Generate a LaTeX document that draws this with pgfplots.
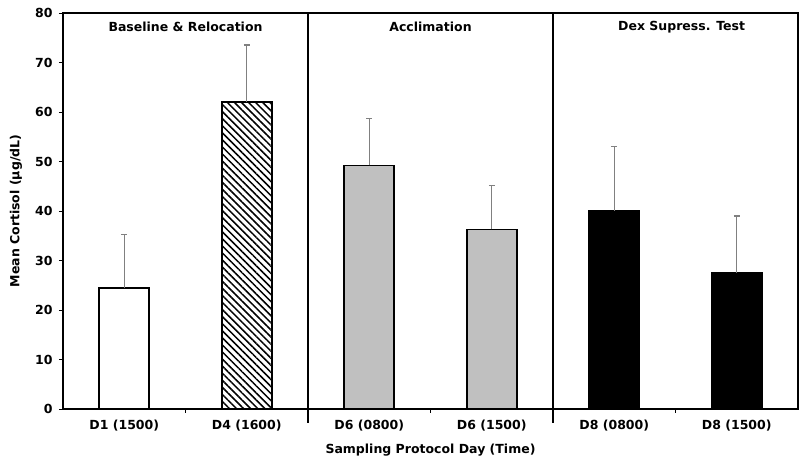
\documentclass[border=0pt]{standalone}
\usepackage{pgfplots}
\pgfplotsset{compat=1.18}
\usepackage{fontspec}
\setmainfont{DejaVu Sans}
\usetikzlibrary{patterns.meta}
\definecolor{bargray}{RGB}{192,192,192}
\definecolor{errgray}{RGB}{128,128,128}
\newcommand{\lf}{\fontsize{12.5}{14}\selectfont\bfseries}
\begin{document}
\begin{tikzpicture}
\begin{axis}[
  scale only axis,
  width=735pt, height=396pt,
  xmin=-0.5, xmax=5.5,
  ymin=0, ymax=80,
  ytick={0,10,...,80},
  xtick={0,...,5},
  xticklabels={D1 (1500),D4 (1600),D6 (0800),D6 (1500),D8 (0800),D8 (1500)},
  minor xtick={0.5,1.5,2.5,3.5,4.5},
  major x tick style={draw=none},
  minor tick length=4pt,
  major tick length=4pt,
  tick align=outside,
  tick pos=left,
  axis line style={line width=1.6pt},
  tick style={line width=0.7pt, black},
  /pgf/number format/assume math mode=true,
  ticklabel style={font=\lf},
  yticklabel style={xshift=-3pt},
  xticklabel style={yshift=-3pt},
  ylabel={Mean Cortisol (µg/dL)},
  xlabel={Sampling Protocol Day (Time)},
  label style={font=\lf},
  ylabel style={at={(axis description cs:0,0.5)}, anchor=center, rotate=0, yshift=47pt},
  xlabel style={at={(axis description cs:0.5,0)}, anchor=center, yshift=-41pt},
  ybar, bar width=50pt, bar shift=0pt,
  error bars/y dir=plus, error bars/y explicit,
  error bars/error bar style={errgray, line width=1.4pt},
  error bars/error mark options={rotate=90, mark size=3pt, errgray, line width=1.4pt},
  clip=false,
]
\addplot[draw=black, line width=1.6pt, fill=white] coordinates {(0,24.4) +- (0,10.8)};
\addplot[draw=black, line width=1.6pt, pattern={Lines[angle=-45, distance=5pt, line width=1.5pt]}] coordinates {(1,62.0) +- (0,11.5)};
\addplot[draw=black, line width=1.6pt, fill=bargray] coordinates {(2,49.2) +- (0,9.5) (3,36.3) +- (0,8.9)};
\addplot[draw=black, line width=1.6pt, fill=black] coordinates {(4,40.0) +- (0,13.0) (5,27.5) +- (0,11.5)};
\draw[line width=1.6pt] (axis cs:1.5,80) -- ([yshift=-14pt]axis cs:1.5,0);
\draw[line width=1.6pt] (axis cs:3.5,80) -- ([yshift=-14pt]axis cs:3.5,0);
\node[font=\lf] at (axis cs:0.5,77.2) {Baseline \& Relocation};
\node[font=\lf] at (axis cs:2.5,77.2) {Acclimation};
\node[font=\lf] at (axis cs:4.55,77.2) {Dex Supress. Test};
\path (rel axis cs:0,0) ++(-63pt,-53pt) (rel axis cs:1,1) ++(2pt,13pt);
\end{axis}
\end{tikzpicture}
\end{document}
